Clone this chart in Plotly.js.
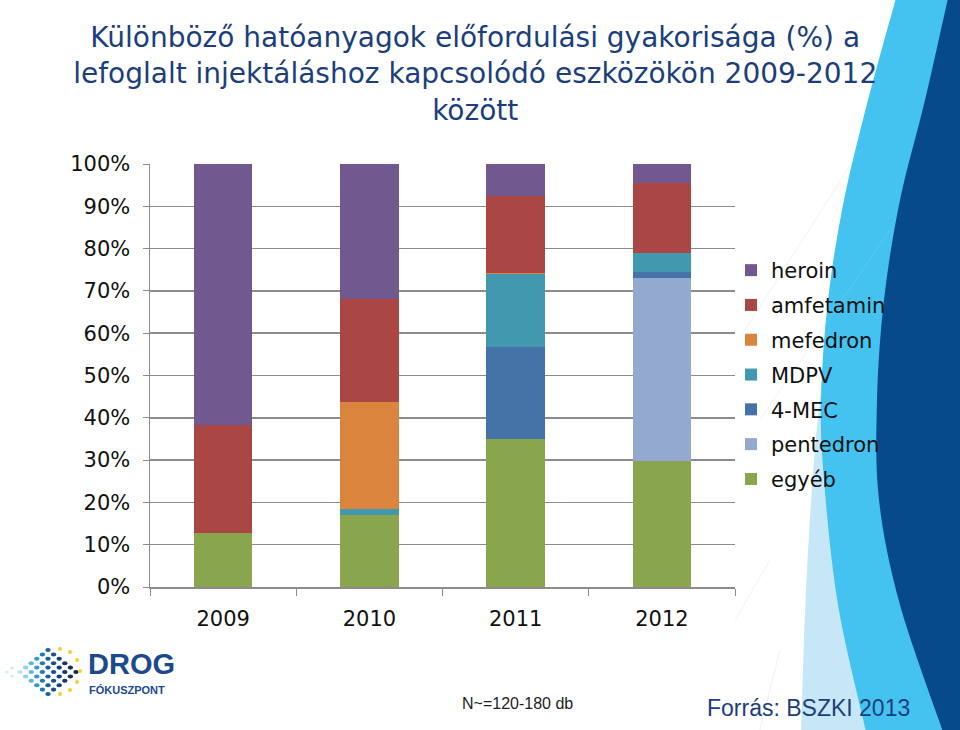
<!DOCTYPE html>
<html>
<head>
<meta charset="utf-8">
<script src="https://cdn.plot.ly/plotly-3.0.1.min.js"></script>
<style>
  body { margin: 0; background: #fff; }
  #myDiv { width: 960px; height: 730px; }
</style>
</head>
<body>
<div id="myDiv"></div>
<script>
var years = ['2009', '2010', '2011', '2012'];

// values, in %
var egyeb     = [12.8, 17.0, 35.0, 29.7];
var pentedron = [0, 0, 0, 43.4];
var mec4      = [0, 0, 21.7, 1.4];
var mdpv      = [0, 1.4, 17.2, 4.5];
var mefedron  = [0, 25.4, 0.4, 0];
var amfetamin = [25.5, 24.2, 18.2, 16.6];
var heroin    = [61.7, 32.0, 7.5, 4.4];

var seriesNames = ['egyéb', 'pentedron', '4-MEC', 'MDPV', 'mefedron', 'amfetamin', 'heroin'];
var seriesValues = [egyeb, pentedron, mec4, mdpv, mefedron, amfetamin, heroin];
var seriesColors = ['#89A54E', '#93A9CF', '#4572A7', '#4198AF', '#DB843D', '#AA4643', '#71588F'];

// plot area in pixels: left 150, right 735, top 164, bottom 587
var L = 150, R = 735, T = 164, B = 587;
function px(x) { return (x - L) / (R - L); }
function py(y) { return (B - y) / (B - T); }

var data = [];
for (let i = 0; i < seriesNames.length; i++) {
  data.push({
    x: years,
    y: seriesValues[i],
    name: seriesNames[i],
    legendgroup: 'g' + i,
    legendrank: seriesNames.length - i,
    type: 'bar',
    marker: {color: seriesColors[i]},
    hoverinfo: 'skip'
  });
}

// decoration: curved bands on the right edge of the slide
function curvePath(pts, closeRight) {
  let s = 'M ' + px(pts[0][0]) + ',' + py(pts[0][1]);
  for (let k = 1; k < pts.length; k++) {
    s += ' L ' + px(pts[k][0]) + ',' + py(pts[k][1]);
  }
  s += ' L ' + px(closeRight) + ',' + py(pts[pts.length - 1][1]);
  s += ' L ' + px(closeRight) + ',' + py(pts[0][1]) + ' Z';
  return s;
}

function smooth(pts) {
  // catmull-rom densify so the band edges look curved
  let out = [];
  for (let i = 0; i < pts.length - 1; i++) {
    let p0 = pts[Math.max(i - 1, 0)], p1 = pts[i], p2 = pts[i + 1], p3 = pts[Math.min(i + 2, pts.length - 1)];
    for (let t = 0; t < 1; t += 0.125) {
      let t2 = t * t, t3 = t2 * t;
      let x = 0.5 * ((2 * p1[0]) + (-p0[0] + p2[0]) * t + (2 * p0[0] - 5 * p1[0] + 4 * p2[0] - p3[0]) * t2 + (-p0[0] + 3 * p1[0] - 3 * p2[0] + p3[0]) * t3);
      let y = 0.5 * ((2 * p1[1]) + (-p0[1] + p2[1]) * t + (2 * p0[1] - 5 * p1[1] + 4 * p2[1] - p3[1]) * t2 + (-p0[1] + 3 * p1[1] - 3 * p2[1] + p3[1]) * t3);
      out.push([x, y]);
    }
  }
  out.push(pts[pts.length - 1]);
  return out;
}

var paleEdge = [[822, 380], [814, 460], [806, 590], [801, 732]];
var lightEdge = [[896, -2], [868, 100], [844, 200], [828, 300], [821, 400], [824, 480], [838, 605], [866, 732]];
var navyEdge = [[948, -2], [925, 100], [900, 200], [884, 300], [877, 400], [879, 500], [900, 605], [943, 732]];

var shapes = [
  {type: 'path', xref: 'paper', yref: 'paper', layer: 'below', line: {width: 0},
   fillcolor: '#C6E7F8', path: curvePath(smooth(paleEdge), 962)},
  {type: 'path', xref: 'paper', yref: 'paper', layer: 'below', line: {width: 0},
   fillcolor: '#44C3F1', path: curvePath(smooth(lightEdge), 962)},
  {type: 'path', xref: 'paper', yref: 'paper', layer: 'below', line: {width: 0},
   fillcolor: '#064A8C', path: curvePath(smooth(navyEdge), 962)}
];

// faint diagonal lines behind the legend
var faint = [[[745, 330], [860, 150]], [[760, 420], [890, 230]], [[735, 620], [770, 560]], [[780, 650], [760, 730]]];
faint.forEach(function (f) {
  shapes.push({type: 'line', xref: 'paper', yref: 'paper', layer: 'below',
    x0: px(f[0][0]), y0: py(f[0][1]), x1: px(f[1][0]), y1: py(f[1][1]),
    line: {color: 'rgba(170,210,235,0.25)', width: 1}});
});

// logo dots
var dotBlues = ['#BFE3F5', '#8FD0EE', '#5CB8E4', '#2F9AD6', '#1C78C0', '#185FA6', '#1A4E8F', '#173F7A', '#16356A', '#142D5E', '#12284F'];
for (let i = 0; i < 6; i++) {
  for (let j = 0; j < 6; j++) {
    let cx = 20 + (i + j) * 5.6;
    let cy = 672 + (j - i) * 4.4;
    let r = 2.7;
    shapes.push({type: 'circle', xref: 'paper', yref: 'paper', layer: 'below',
      x0: px(cx - r), x1: px(cx + r), y0: py(cy + r * 0.75), y1: py(cy - r * 0.75),
      fillcolor: dotBlues[i + j > 10 ? 10 : i + j], line: {width: 0}});
  }
}
var tail = [[7, 672], [12, 668], [12, 676]];
tail.forEach(function (t) {
  shapes.push({type: 'circle', xref: 'paper', yref: 'paper', layer: 'below',
    x0: px(t[0] - 2), x1: px(t[0] + 2), y0: py(t[1] + 1.6), y1: py(t[1] - 1.6),
    fillcolor: '#D6ECF8', line: {width: 0}});
});
var stars = [[60, 649], [70, 652], [77, 660], [80, 671], [77, 682], [70, 690], [60, 694]];
stars.forEach(function (s) {
  shapes.push({type: 'circle', xref: 'paper', yref: 'paper', layer: 'below',
    x0: px(s[0] - 2), x1: px(s[0] + 2), y0: py(s[1] + 2), y1: py(s[1] - 2),
    fillcolor: '#F2D12E', line: {width: 0}});
});

var annotations = [
  {text: 'DROG', x: px(87), y: py(664), xref: 'paper', yref: 'paper', xanchor: 'left', yanchor: 'middle',
   showarrow: false, borderpad: 0,
   font: {family: 'Liberation Sans, Arial', size: 29, color: '#1D4A8E', weight: 'bold'}},
  {text: 'FÓKUSZPONT', x: px(88), y: py(690), xref: 'paper', yref: 'paper', xanchor: 'left', yanchor: 'middle',
   showarrow: false, borderpad: 0,
   font: {family: 'Liberation Sans, Arial', size: 11, color: '#1D4A8E', weight: 'bold'}},
  {text: 'N~=120-180 db', x: px(517), y: py(703), xref: 'paper', yref: 'paper', xanchor: 'center', yanchor: 'middle',
   showarrow: false, font: {family: 'Liberation Sans, Arial', size: 16, color: '#222'}},
  {text: 'Forrás: BSZKI 2013', x: px(808), y: py(708), xref: 'paper', yref: 'paper', xanchor: 'center', yanchor: 'middle',
   showarrow: false, font: {family: 'Liberation Sans, Arial', size: 23, color: '#1C3F7C'}}
];

var layout = {
  width: 960,
  height: 730,
  margin: {l: L, r: 960 - R, t: T, b: 730 - B, pad: 0},
  paper_bgcolor: '#ffffff',
  plot_bgcolor: 'rgba(0,0,0,0)',
  barmode: 'stack',
  bargap: 0.6,
  font: {family: 'DejaVu Sans, Liberation Sans, Arial, sans-serif', color: '#111'},
  title: {
    text: 'Különböző hatóanyagok előfordulási gyakorisága (%) a<br>lefoglalt injektáláshoz kapcsolódó eszközökön 2009-2012<br>között',
    xref: 'container', yref: 'container',
    x: 0.495, xanchor: 'center',
    y: 1 - 47 / 730, yanchor: 'top',
    font: {family: 'DejaVu Sans, Liberation Sans', size: 28, color: '#1C3F7C'}
  },
  xaxis: {
    type: 'category',
    showgrid: false,
    showline: true,
    linecolor: '#8c8c8c',
    linewidth: 1.5,
    ticks: 'outside',
    tickson: 'boundaries',
    ticklen: 7,
    tickcolor: '#8c8c8c',
    ticklabelstandoff: 12,
    tickfont: {size: 21, color: '#111'},
    fixedrange: true
  },
  yaxis: {
    range: [0, 100],
    dtick: 10,
    ticksuffix: '%',
    showgrid: true,
    gridcolor: '#8c8c8c',
    gridwidth: 1.5,
    showline: true,
    linecolor: '#8c8c8c',
    linewidth: 1.5,
    ticks: 'outside',
    ticklen: 6,
    tickcolor: '#8c8c8c',
    ticklabelstandoff: 8,
    tickfont: {size: 21, color: '#111'},
    zeroline: false,
    fixedrange: true
  },
  showlegend: true,
  legend: {
    x: px(731), y: py(250), xanchor: 'left', yanchor: 'top',
    traceorder: 'grouped',
    tracegroupgap: 4.5,
    bgcolor: 'rgba(0,0,0,0)',
    font: {size: 21, color: '#111'},
    itemclick: false
  },
  shapes: shapes,
  annotations: annotations
};

Plotly.newPlot('myDiv', data, layout, {displayModeBar: false, staticPlot: true});
</script>
</body>
</html>
